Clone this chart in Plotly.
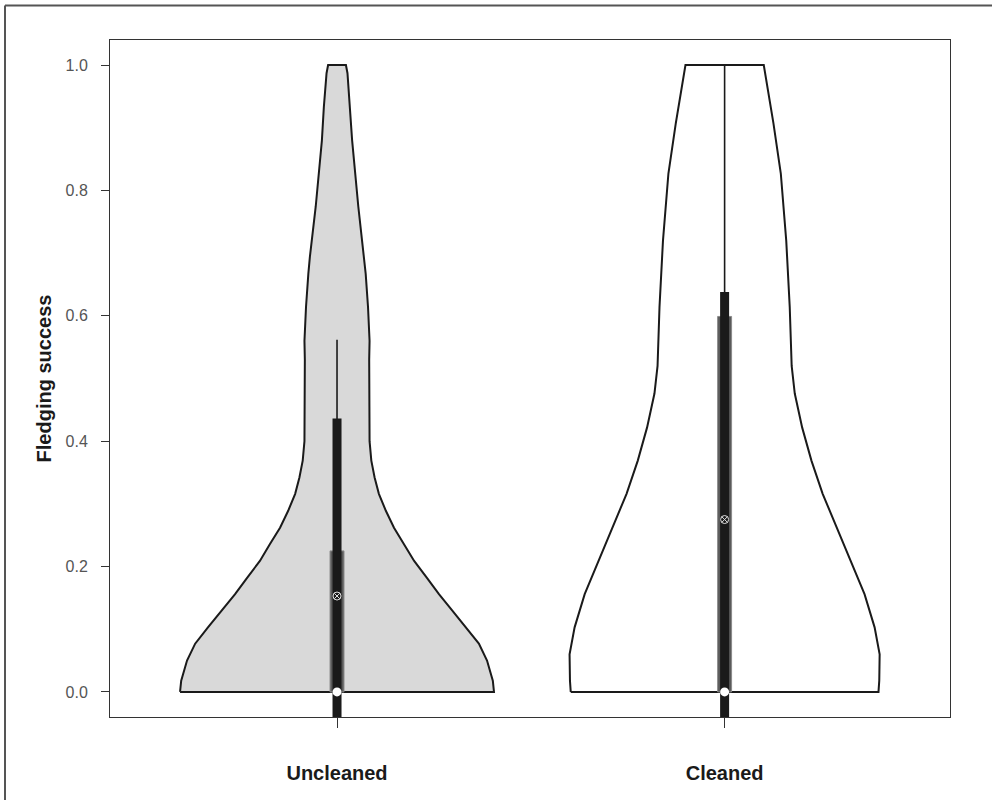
import plotly.graph_objects as go

# ---------------- data ----------------
groups = ["Uncleaned", "Cleaned"]
group_pos = [1, 2]

# violin outline: y levels and half-widths (in x-axis units)
unc_y = [0.0, 0.018, 0.05, 0.077, 0.103, 0.130, 0.156, 0.182, 0.209, 0.236, 0.262, 0.289,
         0.316, 0.342, 0.369, 0.40, 0.47, 0.53, 0.56, 0.614, 0.667, 0.694, 0.774, 0.88,
         0.933, 0.987, 1.0]
unc_hw = [0.405, 0.402, 0.387, 0.366, 0.333, 0.297, 0.263, 0.232, 0.199, 0.173, 0.147, 0.126,
          0.108, 0.097, 0.0885, 0.084, 0.083, 0.083, 0.084, 0.080, 0.074, 0.070, 0.055, 0.039,
          0.034, 0.027, 0.023]

cln_y = [0.0, 0.018, 0.060, 0.103, 0.156, 0.209, 0.262, 0.316, 0.369, 0.422, 0.476, 0.52,
         0.614, 0.720, 0.827, 0.907, 1.0]
cln_hw = [0.397, 0.399, 0.400, 0.387, 0.361, 0.325, 0.290, 0.253, 0.224, 0.200, 0.181, 0.173,
          0.168, 0.159, 0.145, 0.126, 0.101]

violin_y = [unc_y, cln_y]
violin_hw = [unc_hw, cln_hw]
violin_fill = ["#d9d9d9", "#ffffff"]

medians = [0.0, 0.0]
means = [0.153, 0.275]
q1 = [-0.08, -0.08]
q3 = [0.436, 0.638]
upper_whisker = [0.562, 1.0]
bar_tops = [0.225, 0.599]

yticks = [0.0, 0.2, 0.4, 0.6, 0.8, 1.0]
ytick_labels = ["0.0", "0.2", "0.4", "0.6", "0.8", "1.0"]

# ---------------- figure ----------------
FONT = "Liberation Sans, Arial, sans-serif"
rect_half = 0.018

fig = go.Figure()
for i, g in enumerate(groups):
    c = group_pos[i]
    ys = violin_y[i]
    hw = violin_hw[i]
    xs = [c - w for w in hw] + [c + w for w in reversed(hw)]
    yy = list(ys) + list(reversed(ys))
    xs.append(xs[0]); yy.append(yy[0])
    fig.add_trace(go.Scatter(x=xs, y=yy, mode="lines", fill="toself",
                             fillcolor=violin_fill[i],
                             line=dict(color="#1a1a1a", width=2),
                             hoverinfo="skip", showlegend=False))
    # thin whisker
    fig.add_trace(go.Scatter(x=[c, c], y=[medians[i], upper_whisker[i]], mode="lines",
                             line=dict(color="#1a1a1a", width=1.6),
                             hoverinfo="skip", showlegend=False))
    # grey rectangle
    fig.add_trace(go.Scatter(x=[c - rect_half, c + rect_half, c + rect_half, c - rect_half, c - rect_half],
                             y=[0, 0, bar_tops[i], bar_tops[i], 0], mode="lines", fill="toself",
                             fillcolor="#5a5a5a", line=dict(color="#8a8a8a", width=1),
                             hoverinfo="skip", showlegend=False))
    # thick IQR bar
    fig.add_trace(go.Scatter(x=[c, c], y=[q1[i], q3[i]], mode="lines",
                             line=dict(color="#1a1a1a", width=9),
                             hoverinfo="skip", showlegend=False))
    # mean marker
    fig.add_trace(go.Scatter(x=[c], y=[means[i]], mode="markers",
                             marker=dict(symbol="circle-x-open", size=8,
                                         color="#e0e0e0", line=dict(width=1, color="#e0e0e0")),
                             hoverinfo="skip", showlegend=False))
    # median dot
    fig.add_trace(go.Scatter(x=[c], y=[medians[i]], mode="markers", cliponaxis=False,
                             marker=dict(symbol="circle", size=9, color="#ffffff",
                                         line=dict(width=0)),
                             hoverinfo="skip", showlegend=False))

fig.update_layout(
    width=992, height=800,
    margin=dict(l=110, r=42, t=40, b=83),
    paper_bgcolor="white", plot_bgcolor="white",
    font=dict(family=FONT, color="#222222"),
    showlegend=False,
    xaxis=dict(range=[0.4143, 2.5815], tickmode="array", tickvals=group_pos, ticktext=groups,
               showgrid=False, zeroline=False, showline=True, mirror=True,
               linecolor="#333333", linewidth=1,
               ticks="outside", ticklen=10, tickcolor="#333333", tickwidth=1,
               tickfont=dict(family=FONT, size=20, color="#1a1a1a", weight="bold"),
               ticklabelstandoff=28),
    yaxis=dict(range=[-0.04, 1.04], tickmode="array", tickvals=yticks, ticktext=ytick_labels,
               showgrid=False, zeroline=False, showline=True, mirror=True,
               linecolor="#333333", linewidth=1,
               ticks="outside", ticklen=8, tickcolor="#333333", tickwidth=1,
               tickfont=dict(family=FONT, size=16, color="#555555"),
               ticklabelstandoff=10,
               title=dict(text="Fledging success", standoff=8,
                          font=dict(family=FONT, size=20, color="#1a1a1a", weight="bold"))),
    shapes=[
        dict(type="line", xref="paper", yref="paper", x0=-0.125, x1=-0.125, y0=-0.2, y1=1.051,
             line=dict(color="#555555", width=2)),
        dict(type="line", xref="paper", yref="paper", x0=-0.125, x1=1.1, y0=1.051, y1=1.051,
             line=dict(color="#555555", width=2)),
    ],
)

fig.write_html("out.html", config={"displayModeBar": False},
               post_script="document.body.style.margin='0';document.body.style.padding='0';")
